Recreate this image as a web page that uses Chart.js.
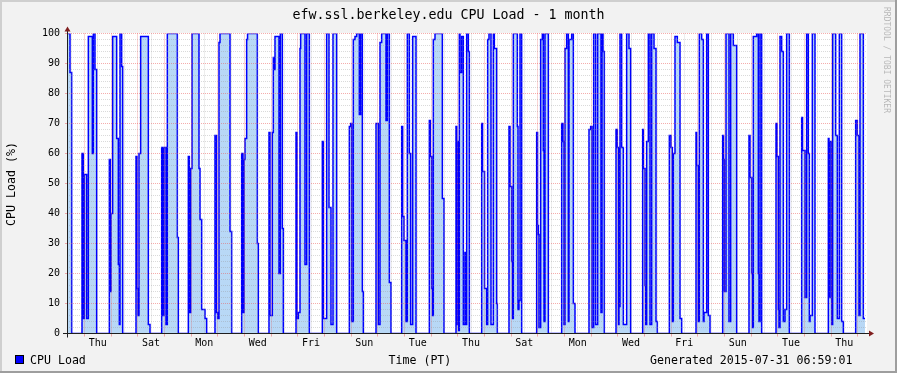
<!DOCTYPE html>
<html>
<head>
<meta charset="utf-8">
<script src="https://cdn.jsdelivr.net/npm/chart.js@4.4.1/dist/chart.umd.min.js"></script>
<style>
html, body { margin: 0; padding: 0; background: #f2f2f2; }
canvas { display: block; }
</style>
</head>
<body>
<canvas id="cpu" width="897" height="373"></canvas>
<script>
// hours since the start of the graph, value holds until the next entry
const hours = [
    0, 2.7, 4.2, 13.5, 14.7, 15.6, 17.7, 19.2, 22.8, 23.7, 25.2, 26.7,
    38.1, 39.0, 39.6, 41.1, 44.7, 46.2, 47.1, 47.7, 49.2, 50.1,
    62.1, 63.0, 63.9, 64.8, 66.3, 73.2, 74.7,
    85.2, 86.4, 87.3, 89.1, 90.3, 99.3, 100.2,
    109.2, 110.1, 111.3, 112.5, 118.8, 119.7, 121.2, 124.2, 125.7,
    133.2, 134.6, 135.6, 136.8, 137.7, 146.7, 148.2,
    157.2, 158.4, 159.3, 160.2, 161.7, 162.5, 171.3, 172.2,
    181.8, 182.7, 184.8, 185.7, 186.6, 187.2, 190.8, 192.0, 193.8, 194.7,
    206.1, 207.0, 208.2, 209.7, 210.3, 214.2, 215.7, 218.1,
    229.8, 230.7, 233.7, 235.8, 237.6, 239.4, 242.7,
    254.1, 255.3, 256.2, 257.7, 259.2, 260.7, 263.1, 264.3, 265.8, 266.7,
    278.1, 280.2, 281.7, 283.2, 287.1, 288.3, 290.1, 291.6,
    301.2, 302.1, 303.3, 305.1, 306.3, 308.1, 309.3, 311.1, 314.1,
    326.1, 327.0, 328.2, 329.0, 329.7, 331.2, 337.8, 339.3,
    350.1, 350.8, 351.5, 352.5, 353.1, 353.7, 355.2, 356.7, 358.2, 359.1, 359.7, 361.2, 362.1,
    373.2, 374.0, 375.8, 377.7, 378.6, 379.8, 381.6, 383.7, 384.6, 386.7, 387.3,
    397.8, 398.7, 400.2, 401.0, 401.7, 405.3, 405.9, 406.8, 407.7, 409.2,
    422.7, 423.5, 424.2, 424.8, 426.3, 427.8, 428.7, 429.3, 430.2, 433.2,
    445.2, 446.4, 447.3, 448.2, 449.7, 451.2, 451.8, 454.2, 455.7, 457.2,
    469.8, 471.3, 472.5, 474.0, 475.8, 477.6, 480.6, 481.5, 482.4, 483.6,
    494.1, 495.3, 496.4, 496.8, 497.7, 499.2, 500.7, 503.7, 505.8, 507.3,
    518.1, 518.7, 520.2, 520.9, 521.7, 523.2, 524.7, 526.2, 528.3, 530.1, 531.3,
    542.1, 543.6, 544.8, 545.7, 547.2, 549.3, 551.7, 553.2,
    566.1, 566.7, 568.2, 569.1, 571.2, 572.7, 573.3, 575.7, 577.2, 578.7,
    590.1, 590.9, 591.6, 593.1, 595.8, 597.3, 599.7, 602.7,
    613.8, 614.7, 616.2, 617.0, 617.7, 620.7, 622.2, 622.8, 623.7, 625.2,
    638.1, 639.0, 640.2, 640.8, 641.7, 643.2, 644.7, 646.2, 647.7, 650.1,
    661.2, 662.0, 664.2, 665.7, 667.2, 668.1, 668.7, 670.8, 673.2,
    685.2, 685.8, 686.7, 688.2, 689.1, 691.8, 693.3, 695.1, 697.2, 698.7,
    709.8, 711.3, 712.8, 713.7, 716.7, 718.2
];

// CPU load (%)
const cpuLoad = [
    100, 87, 0, 60, 5, 53, 5, 99, 60, 100, 88, 0,
    58, 14, 40, 99, 65, 23, 3, 100, 89, 0,
    59, 15, 6, 60, 99, 3, 0,
    62, 6, 62, 3, 100, 32, 0,
    59, 7, 55, 100, 55, 38, 8, 5, 0,
    66, 7, 5, 97, 100, 34, 0,
    60, 7, 58, 65, 98, 100, 30, 0,
    67, 6, 67, 92, 88, 99, 20, 100, 35, 0,
    67, 5, 7, 95, 100, 23, 100, 0,
    64, 5, 100, 42, 3, 100, 0,
    69, 70, 4, 98, 99, 100, 73, 100, 14, 0,
    70, 3, 97, 100, 71, 100, 17, 0,
    69, 39, 31, 4, 100, 60, 3, 99, 0,
    71, 59, 15, 6, 98, 100, 45, 0,
    69, 3, 64, 1, 100, 87, 99, 3, 27, 3, 100, 94, 0,
    70, 54, 15, 3, 98, 100, 3, 100, 95, 10, 0,
    69, 49, 24, 5, 100, 69, 8, 11, 100, 0,
    67, 36, 33, 2, 98, 100, 61, 4, 100, 0,
    70, 64, 3, 95, 100, 4, 98, 100, 10, 0,
    68, 69, 2, 100, 3, 100, 7, 100, 94, 0,
    68, 62, 3, 9, 100, 62, 3, 100, 95, 0,
    68, 55, 16, 3, 64, 100, 3, 100, 95, 4, 0,
    66, 62, 4, 60, 99, 97, 5, 0,
    67, 56, 4, 100, 98, 4, 7, 100, 6, 0,
    66, 58, 14, 100, 4, 100, 96, 0,
    66, 52, 20, 2, 99, 100, 20, 4, 100, 0,
    70, 59, 8, 2, 99, 94, 4, 8, 100, 0,
    72, 61, 12, 100, 60, 4, 6, 100, 0,
    65, 12, 64, 3, 100, 66, 5, 100, 4, 0,
    71, 66, 6, 100, 5, 5
];

// axis labels at noon of every second day
const dayLabels = ['Thu', 'Sat', 'Mon', 'Wed', 'Fri', 'Sun', 'Tue', 'Thu', 'Sat', 'Mon', 'Wed', 'Fri', 'Sun', 'Tue', 'Thu'];
const firstMidnight = 15.6;   // hours after graph start
const rangeHours = 720;

const points = hours.map((h, i) => ({ x: h, y: cpuLoad[i] }));

const FONT = 'DejaVu Sans Mono';
const GRID = 'rgba(150,150,150,0.35)';
const MGRID = 'rgba(235,90,90,0.5)';
const NONE = 'rgba(0,0,0,0)';

function isMidnight(v) {
    const d = (v - firstMidnight) / 24;
    return Math.abs(d - Math.round(d)) < 0.01;
}

const rrdFrame = {
    id: 'rrdFrame',
    beforeDraw(chart) {
        const { ctx, width, height } = chart;
        const a = chart.chartArea;
        ctx.save();
        ctx.fillStyle = '#f2f2f2';
        ctx.fillRect(0, 0, width, height);
        ctx.fillStyle = '#cfcfcf';
        ctx.fillRect(0, 0, width, 2);
        ctx.fillRect(0, 0, 2, height);
        ctx.fillStyle = '#9e9e9e';
        ctx.fillRect(0, height - 2, width, 2);
        ctx.fillRect(width - 2, 0, 2, height);
        ctx.fillStyle = '#ffffff';
        ctx.fillRect(Math.floor(a.left), Math.floor(a.top), Math.round(a.right - a.left), Math.round(a.bottom - a.top));
        ctx.restore();
    },
    afterDraw(chart) {
        const { ctx } = chart;
        const a = chart.chartArea;
        const x0 = Math.floor(a.left) + 0.5;
        const y0 = Math.floor(a.bottom) + 0.5;
        ctx.save();
        // axes
        ctx.strokeStyle = '#1f1f1f';
        ctx.lineWidth = 1;
        ctx.beginPath();
        ctx.moveTo(a.left - 4, y0);
        ctx.lineTo(a.right + 4, y0);
        ctx.moveTo(x0, y0 + 4);
        ctx.lineTo(x0, a.top - 4);
        ctx.stroke();
        // arrows
        ctx.fillStyle = 'rgb(128,31,31)';
        ctx.beginPath();
        ctx.moveTo(a.right + 2, y0 - 3);
        ctx.lineTo(a.right + 2, y0 + 3);
        ctx.lineTo(a.right + 7, y0);
        ctx.closePath();
        ctx.fill();
        ctx.beginPath();
        ctx.moveTo(x0 - 3, a.top - 2);
        ctx.lineTo(x0 + 3, a.top - 2);
        ctx.lineTo(x0, a.top - 7);
        ctx.closePath();
        ctx.fill();

        // texts
        ctx.fillStyle = '#000';
        ctx.textBaseline = 'alphabetic';
        ctx.font = '13.3px "' + FONT + '"';
        ctx.textAlign = 'center';
        ctx.fillText('efw.ssl.berkeley.edu CPU Load - 1 month', 448.5, 18.5);

        ctx.font = '11.6px "' + FONT + '"';
        ctx.save();
        ctx.translate(14.5, 184);
        ctx.rotate(-Math.PI / 2);
        ctx.fillText('CPU Load (%)', 0, 0);
        ctx.restore();

        // legend
        ctx.fillStyle = '#0000ff';
        ctx.fillRect(15, 355, 9, 9);
        ctx.strokeStyle = '#000';
        ctx.strokeRect(15.5, 355.5, 8, 8);
        ctx.fillStyle = '#000';
        ctx.textAlign = 'left';
        ctx.fillText('CPU Load', 30, 364);
        ctx.fillText('Time (PT)', 388.5, 364);
        ctx.fillText('Generated 2015-07-31 06:59:01', 650, 364);

        // watermark
        ctx.fillStyle = 'rgba(0,0,0,0.25)';
        ctx.font = '8px "' + FONT + '"';
        ctx.translate(884, 60);
        ctx.rotate(Math.PI / 2);
        ctx.textAlign = 'center';
        ctx.fillText('RRDTOOL / TOBI OETIKER', 0, 0);
        ctx.restore();
    }
};

new Chart(document.getElementById('cpu'), {
    type: 'line',
    data: {
        datasets: [{
            label: 'CPU Load',
            data: points,
            stepped: 'before',
            borderColor: '#0000ff',
            borderWidth: 1.5,
            backgroundColor: '#b8d8f6',
            fill: 'origin',
            pointRadius: 0,
            tension: 0
        }]
    },
    options: {
        responsive: false,
        animation: false,
        devicePixelRatio: 1,
        layout: { padding: { left: 0, top: 33.5, right: 30, bottom: 0 } },
        plugins: {
            legend: { display: false },
            title: { display: false },
            tooltip: { enabled: false }
        },
        scales: {
            x: {
                type: 'linear',
                min: 0,
                max: rangeHours,
                afterBuildTicks(scale) {
                    const t = [];
                    for (let h = firstMidnight - 12; h <= rangeHours; h += 12) {
                        t.push({ value: +h.toFixed(2) });
                    }
                    scale.ticks = t;
                },
                afterFit(scale) { scale.height = 39.5; },
                ticks: {
                    autoSkip: false,
                    maxRotation: 0,
                    minRotation: 0,
                    padding: 1,
                    color: '#000',
                    font: { family: FONT, size: 10 },
                    callback(v) {
                        const k = (v - firstMidnight - 12) / 48;
                        const r = Math.round(k);
                        return Math.abs(k - r) < 0.01 && dayLabels[r] ? dayLabels[r] : '';
                    }
                },
                grid: {
                    z: 1,
                    lineWidth: 1,
                    tickLength: 3,
                    color: c => isMidnight(c.tick.value) ? MGRID : GRID,
                    tickColor: c => isMidnight(c.tick.value) ? MGRID : NONE
                },
                border: { display: false, dash: [1, 1] }
            },
            y: {
                min: 0,
                max: 100,
                afterBuildTicks(scale) {
                    const t = [];
                    for (let v = 0; v <= 100; v += 2) t.push({ value: v });
                    scale.ticks = t;
                },
                afterFit(scale) { scale.width = 67; },
                ticks: {
                    autoSkip: false,
                    padding: 5,
                    color: '#000',
                    font: { family: FONT, size: 10 },
                    callback: v => v % 10 === 0 ? String(v) : ''
                },
                grid: {
                    z: 1,
                    lineWidth: 1,
                    tickLength: 2,
                    color: c => c.tick.value % 10 === 0 ? MGRID : GRID,
                    tickColor: c => c.tick.value % 10 === 0 ? MGRID : NONE
                },
                border: { display: false, dash: [1, 1] }
            }
        }
    },
    plugins: [rrdFrame]
});
</script>
</body>
</html>
